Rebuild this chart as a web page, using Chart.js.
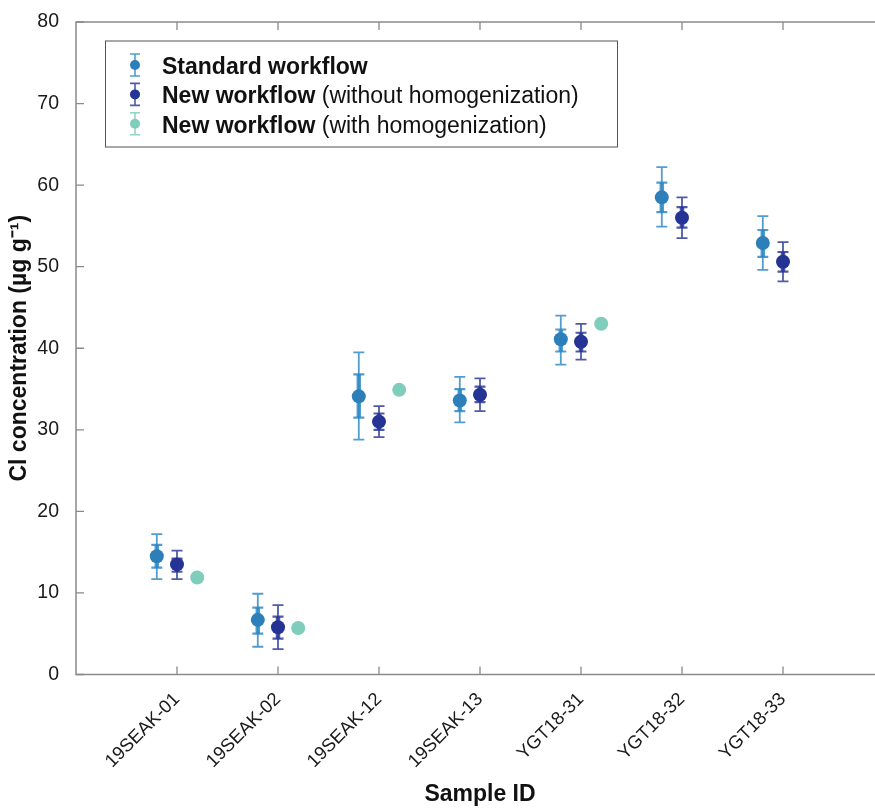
<!DOCTYPE html>
<html><head><meta charset="utf-8">
<script src="https://cdn.jsdelivr.net/npm/chart.js@4"></script>
<style>
html,body{margin:0;padding:0;overflow:hidden;background:#fff;width:875px;height:808px}
#wrap{position:absolute;left:0;top:0;width:900px;height:808px}
</style></head><body>
<div id="wrap"><canvas id="c" width="900" height="808"></canvas></div>
<script>
// ---- data ----
const categories = ['19SEAK-01','19SEAK-02','19SEAK-12','19SEAK-13','YGT18-31','YGT18-32','YGT18-33'];
const yTicks = [0,10,20,30,40,50,60,70,80];

const stdMean      = [14.5, 6.7, 34.1, 33.6, 41.1, 58.5, 52.9];
const stdOuterLow  = [11.7, 3.4, 28.8, 30.9, 38.0, 54.9, 49.6];
const stdOuterHigh = [17.2, 9.9, 39.5, 36.5, 44.0, 62.2, 56.2];
const stdInnerLow  = [13.1, 5.0, 31.5, 32.3, 39.6, 56.7, 51.2];
const stdInnerHigh = [15.9, 8.2, 36.8, 35.0, 42.3, 60.3, 54.5];

const newMean      = [13.5, 5.8, 31.0, 34.3, 40.8, 56.0, 50.6];
const newOuterLow  = [11.7, 3.1, 29.1, 32.3, 38.6, 53.5, 48.2];
const newOuterHigh = [15.2, 8.5, 32.9, 36.3, 43.0, 58.5, 53.0];
const newInnerLow  = [12.6, 4.4, 30.0, 33.4, 39.6, 54.8, 49.4];
const newInnerHigh = [14.2, 7.1, 32.0, 35.3, 41.9, 57.3, 51.8];

const homMean      = [11.9, 5.7, 34.9, null, 43.0, null, null];

const legendBold   = ['Standard workflow','New workflow','New workflow'];
const legendNormal = ['','(without homogenization)','(with homogenization)'];

// ---- styles ----
const FONT = "'Liberation Sans', Arial, Helvetica, sans-serif";
const C_STD = '#2c7fb8', C_NEW = '#253494', C_HOM = '#7fcdbb';
const E_STD = 'rgba(44,135,195,0.82)', E_NEW = 'rgba(40,55,150,0.82)', E_HOM = 'rgba(127,205,187,0.85)';
const offsets = [-0.2, 0, 0.2];

function pts(arr, off){ return arr.map((v,i)=> v==null ? null : {x: i+1+off, y: v}).filter(p=>p); }

const series = [
  {mean: stdMean, ol: stdOuterLow, oh: stdOuterHigh, il: stdInnerLow, ih: stdInnerHigh, off: offsets[0], ec: E_STD},
  {mean: newMean, ol: newOuterLow, oh: newOuterHigh, il: newInnerLow, ih: newInnerHigh, off: offsets[1], ec: E_NEW}
];

const frame = {
  id: 'frame',
  beforeDatasetsDraw(chart){
    const {ctx, chartArea:{left,right,top,bottom}, scales:{x,y}} = chart;
    ctx.save();
    ctx.strokeStyle = '#8a8a8a'; ctx.lineWidth = 1.5;
    ctx.beginPath();
    ctx.moveTo(left,top); ctx.lineTo(left,bottom); ctx.lineTo(right,bottom); ctx.lineTo(right,top); ctx.closePath();
    ctx.stroke();
    ctx.lineWidth = 1.3;
    ctx.beginPath();
    y.ticks.forEach(t=>{ const p=y.getPixelForValue(t.value); ctx.moveTo(left,p); ctx.lineTo(left+8,p); ctx.moveTo(right,p); ctx.lineTo(right-8,p); });
    x.ticks.forEach(t=>{ const p=x.getPixelForValue(t.value); ctx.moveTo(p,bottom); ctx.lineTo(p,bottom-8); ctx.moveTo(p,top); ctx.lineTo(p,top+8); });
    ctx.stroke();
    // error bars
    series.forEach(s=>{
      s.mean.forEach((m,i)=>{
        if (m==null) return;
        const px = x.getPixelForValue(i+1+s.off);
        const oL = y.getPixelForValue(s.ol[i]), oH = y.getPixelForValue(s.oh[i]);
        const iL = y.getPixelForValue(s.il[i]), iH = y.getPixelForValue(s.ih[i]);
        ctx.strokeStyle = s.ec;
        ctx.lineWidth = 1.8;
        ctx.beginPath();
        ctx.moveTo(px,oL); ctx.lineTo(px,oH);
        ctx.moveTo(px-5.5,oL); ctx.lineTo(px+5.5,oL);
        ctx.moveTo(px-5.5,oH); ctx.lineTo(px+5.5,oH);
        ctx.stroke();
        ctx.lineWidth = 4.5;
        ctx.beginPath(); ctx.moveTo(px,iL); ctx.lineTo(px,iH); ctx.stroke();
        ctx.lineWidth = 2.2;
        ctx.beginPath();
        ctx.moveTo(px-5.5,iL); ctx.lineTo(px+5.5,iL);
        ctx.moveTo(px-5.5,iH); ctx.lineTo(px+5.5,iH);
        ctx.stroke();
      });
    });
    ctx.restore();
  },
  afterDraw(chart){
    const {ctx, chartArea:{left,top}} = chart;
    const bx = left + 29.5, by = top + 19, bw = 512, bh = 106;
    ctx.save();
    ctx.fillStyle = '#fff'; ctx.fillRect(bx,by,bw,bh);
    ctx.strokeStyle = '#555'; ctx.lineWidth = 1; ctx.strokeRect(bx,by,bw,bh);
    const mcol = [C_STD, C_NEW, C_HOM], ecol = [E_STD, E_NEW, E_HOM];
    const mx = left + 59, tx = left + 86;
    for (let i=0;i<3;i++){
      const cy = top + 43 + i*29.4;
      ctx.strokeStyle = ecol[i]; ctx.lineWidth = 1.6;
      ctx.beginPath();
      ctx.moveTo(mx, cy-11); ctx.lineTo(mx, cy+11);
      ctx.moveTo(mx-5, cy-11); ctx.lineTo(mx+5, cy-11);
      ctx.moveTo(mx-5, cy+11); ctx.lineTo(mx+5, cy+11);
      ctx.stroke();
      ctx.fillStyle = mcol[i];
      ctx.beginPath(); ctx.arc(mx, cy, 5, 0, Math.PI*2); ctx.fill();
      ctx.fillStyle = '#111'; ctx.textBaseline = 'alphabetic'; ctx.textAlign = 'left';
      ctx.font = 'bold 23px ' + FONT;
      ctx.fillText(legendBold[i], tx, cy + 9);
      const w = ctx.measureText(legendBold[i] + ' ').width;
      ctx.font = '23px ' + FONT;
      ctx.fillText(legendNormal[i], tx + w, cy + 9);
    }
    ctx.restore();
  }
};

new Chart(document.getElementById('c'), {
  type: 'scatter',
  data: {
    datasets: [
      {label: legendBold[0], data: pts(stdMean, offsets[0]), backgroundColor: C_STD, borderColor: C_STD, pointRadius: 7, borderWidth: 0},
      {label: legendBold[1] + ' ' + legendNormal[1], data: pts(newMean, offsets[1]), backgroundColor: C_NEW, borderColor: C_NEW, pointRadius: 7, borderWidth: 0},
      {label: legendBold[2] + ' ' + legendNormal[2], data: pts(homMean, offsets[2]), backgroundColor: C_HOM, borderColor: C_HOM, pointRadius: 7, borderWidth: 0}
    ]
  },
  options: {
    responsive: false, animation: false,
    layout: {padding: {top: 22, right: 16, left: 0, bottom: 0}},
    plugins: {legend: {display: false}, tooltip: {enabled: false}},
    scales: {
      x: {
        type: 'linear', min: 0, max: 8,
        afterBuildTicks: s => { s.ticks = categories.map((c,i)=>({value: i+1})); },
        afterFit: s => { s.height = 133.5; },
        grid: {display: false}, border: {display: false},
        ticks: {autoSkip: false, minRotation: 45, maxRotation: 45, padding: 6, color: '#1a1a1a',
                font: {family: FONT, size: 18.5}, callback: v => categories[v-1] ?? ''},
        title: {display: true, text: 'Sample ID', color: '#111', font: {family: FONT, size: 23, weight: 'bold'}, padding: {top: 0, bottom: 0}}
      },
      y: {
        min: 0, max: 80,
        afterBuildTicks: s => { s.ticks = yTicks.map(v=>({value: v})); },
        afterFit: s => { s.width = 76; },
        grid: {display: false}, border: {display: false},
        ticks: {padding: 9, color: '#1a1a1a', font: {family: FONT, size: 19.5}},
        title: {display: true, text: 'Cl concentration (µg g⁻¹)', color: '#111', font: {family: FONT, size: 23, weight: 'bold'}, padding: {top: 6, bottom: 0}}
      }
    }
  },
  plugins: [frame]
});
</script>
</body></html>
